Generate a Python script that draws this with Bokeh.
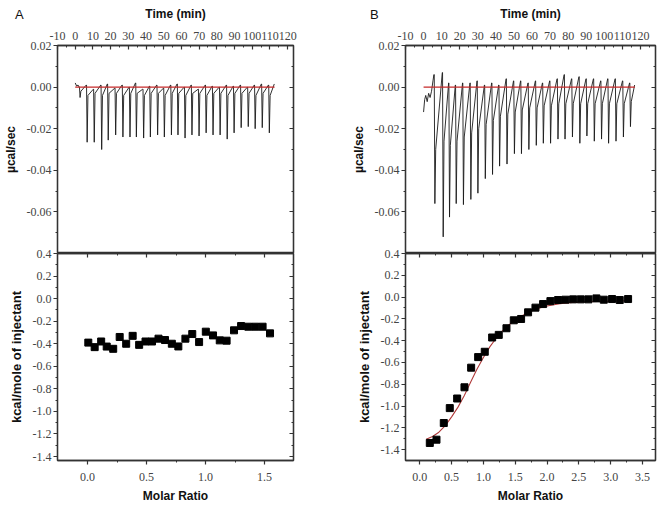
from bokeh.plotting import figure
from bokeh.layouts import row, column
from bokeh.models import (LinearAxis, Range1d, FixedTicker, PrintfTickFormatter,
                          CustomJSTickFormatter, Div)
from bokeh.embed import file_html
from bokeh.resources import INLINE

# ---------------- data ----------------
# Panel A raw thermogram
a_pre_time = [0.0, 0.8, 1.6, 2.2]
a_pre_val = [0.002, 0.0005, 0.001, 0.0]
a_inj_time = [2.4, 6.4, 10.4, 14.6, 18.3, 22.5, 26.6, 30.6, 34.2, 38.3, 42.1, 46.2, 50.0, 54.0,
              57.7, 61.7, 65.6, 69.6, 73.6, 77.5, 81.5, 85.5, 89.4, 93.4, 97.4, 101.3, 105.3, 109.3]
a_inj_peak = [-0.005, -0.0265, -0.0265, -0.0300, -0.0255, -0.0230, -0.0240, -0.0240, -0.0240,
              -0.0245, -0.0240, -0.0230, -0.0240, -0.0230, -0.0230, -0.0245, -0.0230, -0.0235,
              -0.0220, -0.0230, -0.0230, -0.0250, -0.0220, -0.0195, -0.0190, -0.0200, -0.0195, -0.0220]
a_inj_mid = [-0.002, -0.004, -0.003, -0.004, -0.003, -0.003, -0.004, -0.003, -0.003, -0.004,
             -0.003, -0.003, -0.004, -0.003, -0.003, -0.004, -0.003, -0.003, -0.004, -0.003,
             -0.003, -0.004, -0.003, -0.003, -0.003, -0.004, -0.003, -0.004]
a_inj_end = [0.001, -0.001, 0.001, 0.0015, -0.0005, 0.001, 0.0, 0.002, -0.001, 0.0005, 0.001,
             -0.0005, 0.001, 0.0015, 0.0, 0.001, -0.001, 0.001, 0.0005, 0.0, 0.001, 0.0005,
             0.001, 0.0, 0.001, 0.0015, 0.001, 0.0015]
a_run_end = 112.6
a_base_time = [0.0, 112.6]
a_base_val = [0.0, 0.0]

# Panel A integrated heats
a_molar = [0.006, 0.060, 0.115, 0.162, 0.217, 0.272, 0.327, 0.382, 0.437, 0.491, 0.546, 0.601,
           0.656, 0.714, 0.769, 0.829, 0.887, 0.945, 1.002, 1.063, 1.120, 1.178, 1.241, 1.301,
           1.362, 1.422, 1.483, 1.546]
a_heat = [-0.39, -0.43, -0.38, -0.425, -0.445, -0.34, -0.40, -0.33, -0.41, -0.38, -0.38, -0.355,
          -0.367, -0.40, -0.424, -0.355, -0.314, -0.385, -0.293, -0.326, -0.37, -0.373, -0.281,
          -0.243, -0.249, -0.249, -0.249, -0.308]

# Panel B raw thermogram
b_pre_time = [0.0, 0.6, 1.2, 2.0, 2.8, 3.6, 4.4, 5.2, 5.7]
b_pre_val = [-0.012, -0.006, -0.004, -0.007, -0.003, -0.005, -0.002, 0.003, 0.006]
b_inj_time = [5.9, 10.5, 14.0, 17.7, 21.7, 25.8, 29.7, 33.8, 37.8, 41.7, 45.8, 49.9, 53.8, 57.9,
              62.0, 65.9, 69.9, 74.0, 77.9, 82.0, 86.1, 90.0, 94.1, 98.1, 102.0, 106.1, 110.2, 114.1]
b_inj_peak = [-0.056, -0.072, -0.0625, -0.056, -0.0565, -0.054, -0.051, -0.044, -0.042, -0.038,
              -0.037, -0.032, -0.032, -0.030, -0.028, -0.027, -0.027, -0.025, -0.025, -0.024,
              -0.027, -0.0235, -0.026, -0.025, -0.027, -0.026, -0.024, -0.019]
b_inj_mid = [-0.030, -0.026, -0.028, -0.026, -0.024, -0.022, -0.020, -0.018, -0.016, -0.014,
             -0.013, -0.012, -0.011, -0.010, -0.010, -0.009, -0.009, -0.008, -0.008, -0.008,
             -0.008, -0.008, -0.008, -0.008, -0.008, -0.008, -0.008, -0.007]
b_inj_end = [0.007, 0.002, 0.001, 0.002, 0.002, 0.003, 0.001, 0.002, 0.001, 0.004, 0.003, 0.003,
             0.002, 0.003, 0.002, 0.003, 0.004, 0.006, 0.004, 0.005, 0.004, 0.004, 0.003, 0.004,
             0.004, 0.003, 0.002, 0.001]
b_run_end = 116.9
b_base_time = [0.0, 116.9]
b_base_val = [0.0, 0.0]

# Panel B integrated heats and fit
b_molar = [0.157, 0.262, 0.377, 0.471, 0.587, 0.702, 0.807, 0.917, 1.021, 1.137, 1.241, 1.362,
           1.477, 1.592, 1.702, 1.818, 1.938, 2.053, 2.174, 2.289, 2.410, 2.530, 2.651, 2.776,
           2.892, 3.022, 3.143, 3.274]
b_heat = [-1.339, -1.309, -1.156, -1.019, -0.931, -0.828, -0.648, -0.551, -0.502, -0.371, -0.347,
          -0.286, -0.213, -0.201, -0.140, -0.097, -0.064, -0.037, -0.027, -0.024, -0.021, -0.021,
          -0.021, -0.012, -0.024, -0.018, -0.027, -0.018]
b_fit_molar = [0.10, 0.20, 0.30, 0.40, 0.50, 0.60, 0.70, 0.80, 0.90, 1.00, 1.10, 1.20, 1.30, 1.40,
               1.50, 1.60, 1.70, 1.80, 1.90, 2.00, 2.20, 2.40, 2.60, 2.80, 3.00, 3.30]
b_fit_heat = [-1.306, -1.28, -1.24, -1.18, -1.10, -1.01, -0.904, -0.78, -0.66, -0.554, -0.457,
              -0.378, -0.31, -0.256, -0.21, -0.173, -0.143, -0.116, -0.097, -0.082, -0.061,
              -0.049, -0.043, -0.040, -0.037, -0.034]

# Ticks / labels
time_ticks = [-10, 0, 10, 20, 30, 40, 50, 60, 70, 80, 90, 100, 110, 120]
time_minor = [-5, 5, 15, 25, 35, 45, 55, 65, 75, 85, 95, 105, 115, 125]
raw_ticks = [-0.06, -0.04, -0.02, 0.0, 0.02]
raw_minor = [-0.07, -0.05, -0.03, -0.01, 0.01]
heat_ticks = [-1.4, -1.2, -1.0, -0.8, -0.6, -0.4, -0.2, 0.0, 0.2, 0.4]
heat_minor = [-1.3, -1.1, -0.9, -0.7, -0.5, -0.3, -0.1, 0.1, 0.3]
molar_ticks_a = [0.0, 0.5, 1.0, 1.5]
molar_minor_a = [0.25, 0.75, 1.25]
molar_ticks_b = [0.0, 0.5, 1.0, 1.5, 2.0, 2.5, 3.0, 3.5]
molar_minor_b = [0.25, 0.75, 1.25, 1.75, 2.25, 2.75, 3.25]

# ---------------- styling ----------------
AX = "#333333"
TICK_FONT = "Liberation Sans Narrow"
TITLE_FONT = "Liberation Sans"
RED = "#c62828"


def build_trace(pre_t, pre_v, inj_t, peak, mid, end, run_end):
    xs, ys = list(pre_t), list(pre_v)
    nxt = inj_t[1:] + [run_end]
    for t, pk, md, en, tn in zip(inj_t, peak, mid, end, nxt):
        xs += [t, t + 0.35, t + 0.8, tn - 0.15]
        ys += [ys[-1], pk, md, en]
    return xs, ys


def make_axis(ticks, minor, fmt, title=None, labels=True, out=True):
    ax = LinearAxis(ticker=FixedTicker(ticks=ticks, minor_ticks=minor))
    if labels:
        ax.formatter = PrintfTickFormatter(format=fmt)
    else:
        ax.formatter = CustomJSTickFormatter(code="return ''")
    ax.axis_line_color = AX
    ax.axis_line_width = 1.3
    ax.major_tick_line_color = AX
    ax.minor_tick_line_color = AX
    ax.major_tick_line_width = 1.2
    if out:
        ax.major_tick_out, ax.major_tick_in = 4, 0
        ax.minor_tick_out, ax.minor_tick_in = 2, 0
    else:
        ax.major_tick_out, ax.major_tick_in = 0, 4
        ax.minor_tick_out, ax.minor_tick_in = 0, 2
    ax.major_label_text_font = TICK_FONT
    ax.major_label_text_font_size = "12px"
    ax.major_label_text_color = "#444444"
    ax.major_label_standoff = 2
    if title:
        ax.axis_label = title
        ax.axis_label_text_font = TITLE_FONT
        ax.axis_label_text_font_style = "bold"
        ax.axis_label_text_font_size = "12px"
        ax.axis_label_text_color = "#111111"
        ax.axis_label_standoff = 6
    return ax


def panel_letter(text, left):
    return Div(text=text, width=20, height=18, margin=(7, 0, -25, left),
               styles={"font-family": TITLE_FONT, "font-size": "13px", "color": "#111111",
                       "line-height": "15px"})


def top_panel(width, left, right, xr, trace, base):
    p = figure(width=width, height=253, x_range=Range1d(*xr), y_range=Range1d(-0.08, 0.02),
               output_backend="svg", toolbar_location=None,
               x_axis_location=None, y_axis_location=None,
               min_border_left=left, min_border_right=right, min_border_top=45,
               min_border_bottom=0)
    p.border_fill_color = None
    p.grid.visible = False
    p.outline_line_color = AX
    p.outline_line_width = 1.3
    p.add_layout(make_axis(raw_ticks, raw_minor, "%.2f", "µcal/sec"), "left")
    p.add_layout(make_axis(raw_ticks, raw_minor, "", labels=False, out=False), "right")
    top = make_axis(time_ticks, time_minor, "%d", "Time (min)", out=False)
    top.major_label_standoff = 6
    top.axis_label_standoff = 8
    p.add_layout(top, "above")
    p.line(trace[0], trace[1], line_color="#1a1a1a", line_width=0.9)
    p.line(base[0], base[1], line_color=RED, line_width=1.2)
    return p


def bottom_panel(width, left, right, xr, yr, mt, mm, mx, hy, fit=None):
    p = figure(width=width, height=260, x_range=Range1d(*xr), y_range=Range1d(*yr),
               output_backend="svg", toolbar_location=None,
               x_axis_location=None, y_axis_location=None,
               min_border_left=left, min_border_right=right, min_border_top=8,
               min_border_bottom=45, margin=(-8, 0, 0, 0))
    p.border_fill_color = None
    p.grid.visible = False
    p.outline_line_color = AX
    p.outline_line_width = 1.3
    p.add_layout(make_axis(heat_ticks, heat_minor, "%.1f", "kcal/mole of injectant"), "left")
    p.yaxis[0].axis_label_text_font_size = "13px"
    p.add_layout(make_axis(heat_ticks, heat_minor, "", labels=False, out=False), "right")
    bot = make_axis(mt, mm, "%.1f", "Molar Ratio")
    bot.major_label_standoff = 8
    bot.axis_label_standoff = 5
    p.add_layout(bot, "below")
    p.add_layout(make_axis(mt, mm, "", labels=False, out=False), "above")
    if fit is not None:
        p.line(fit[0], fit[1], line_color="#b03a3a", line_width=1.1)
    p.scatter(mx, hy, marker="square", size=7, color="black")
    return p


trace_a = build_trace(a_pre_time, a_pre_val, a_inj_time, a_inj_peak, a_inj_mid, a_inj_end, a_run_end)
trace_b = build_trace(b_pre_time, b_pre_val, b_inj_time, b_inj_peak, b_inj_mid, b_inj_end, b_run_end)

top_a = top_panel(330, 50, 37, (-10, 123.3), trace_a, (a_base_time, a_base_val))
bot_a = bottom_panel(330, 50, 37, (-0.255, 1.745), (-1.435, 0.4),
                     molar_ticks_a, molar_minor_a, a_molar, a_heat)
top_b = top_panel(328, 75, 3, (-10, 128.3), trace_b, (b_base_time, b_base_val))
bot_b = bottom_panel(328, 75, 3, (-0.225, 3.705), (-1.5, 0.4),
                     molar_ticks_b, molar_minor_b, b_molar, b_heat, fit=(b_fit_molar, b_fit_heat))

layout = row(column(panel_letter("A", 15), top_a, bot_a),
             column(panel_letter("B", 40), top_b, bot_b))

with open("out.html", "w") as f:
    f.write(file_html(layout, INLINE))
